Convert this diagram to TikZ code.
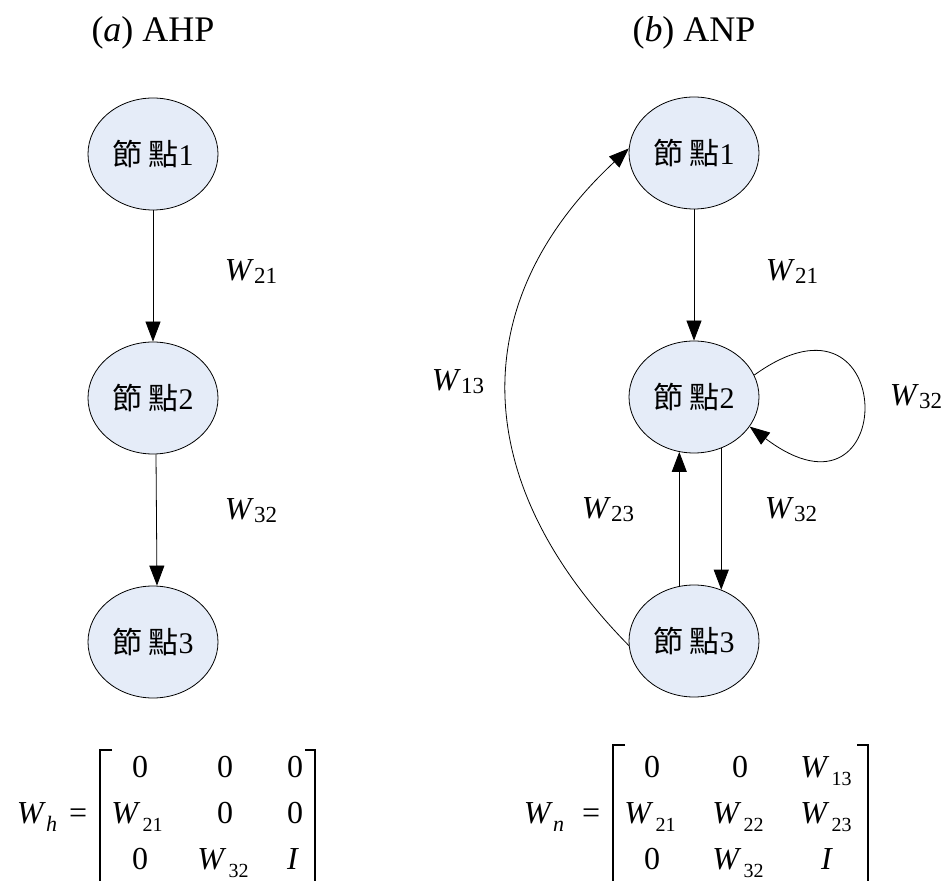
\documentclass[tikz,border=0pt]{standalone}
\usepackage{fontspec}
\setmainfont{Liberation Serif}
\newfontfamily\cjk{Noto Sans CJK TC}
\usetikzlibrary{shapes.geometric, arrows.meta}
\definecolor{nodeblue}{RGB}{229,236,248}
\tikzstyle{arrow} = [->,>={Triangle[length=10pt,width=7.5pt]}]
\tikzstyle{oval} = [ellipse, minimum width=65pt, minimum height=56pt, inner sep=0pt, draw=black, fill=nodeblue, font=\fontsize{15}{18}\selectfont]
\tikzstyle{lab} = [font=\fontsize{16}{19}\selectfont]
\tikzstyle{ent} = [anchor=base, inner sep=0pt, font=\fontsize{16}{19}\selectfont]
\tikzstyle{title} = [font=\fontsize{18}{22}\selectfont]
\tikzstyle{bracket} = [line width=1.1pt]
\newcommand{\jd}[1]{{\cjk 節}\hspace{3pt}{\cjk 點}#1}
\newcommand{\wl}[1]{\textit{W}\raisebox{-1.5pt}{\fontsize{11.5}{13}\selectfont #1}}
\newcommand{\wm}[1]{\textit{W}\kern1pt\raisebox{-4pt}{\fontsize{10}{12}\selectfont #1}}

\begin{document}
\begin{tikzpicture}[x=0.5pt, y=-0.5pt, node distance=122pt]
		\useasboundingbox (0,0) rectangle (942,881);
		% titles
		\node (ta) [title] at (153,33) {(\textit{a}) AHP};
		\node (tb) [title] at (694,33) {(\textit{b}) ANP};
		% (a) AHP
		\node (ln1) [oval] at (153,154) {\jd{1}};
		\node (ln2) [oval, below of=ln1] {\jd{2}};
		\node (ln3) [oval, below of=ln2] {\jd{3}};
		\draw [arrow] (ln1) -- (ln2);
		\draw [arrow] ([xshift=1.5pt]ln2.south) -- ([xshift=2pt]ln3.north);
		\node (la21) [lab] at (251,272) {\wl{21}};
		\node (la32) [lab] at (251,511) {\wl{32}};
		% (b) ANP
		\node (rn1) [oval] at (694,153) {\jd{1}};
		\node (rn2) [oval, below of=rn1] {\jd{2}};
		\node (rn3) [oval, below of=rn2] {\jd{3}};
		\draw [arrow] (rn1) -- (rn2);
		\draw [arrow] (rn3.105) -- (rn2.-105);
		\draw [arrow] (rn2.-62) -- (rn3.62);
		\draw [arrow] (rn2.20) .. controls (900,270) and (900,540) .. (rn2.-28);
		\draw [arrow] (rn3.184) .. controls (466,480) and (466,300) .. (rn1.176);
		\node (rb21) [lab] at (792,272) {\wl{21}};
		\node (rb13) [lab] at (458,382) {\wl{13}};
		\node (rb23) [lab] at (608,510) {\wl{23}};
		\node (rb32) [lab] at (791,510) {\wl{32}};
		\node (rb22) [lab] at (916,397) {\wl{32}};
		% matrix W_h
		\node (wh) [ent] at (52,823) {\textit{W}\raisebox{-4pt}{\fontsize{11}{13}\selectfont\textit{h}}\hspace{6pt}=};
		\draw [bracket] (112,750) -- (100,750) -- (100,881);
		\draw [bracket] (305,750) -- (315,750) -- (315,881);
		\node (h11) [ent] at (140,777) {0};
		\node (h12) [ent] at (225,777) {0};
		\node (h13) [ent] at (295,777) {0};
		\node (h21) [ent] at (137,823) {\wm{21}};
		\node (h22) [ent] at (225,823) {0};
		\node (h23) [ent] at (295,823) {0};
		\node (h31) [ent] at (140,869) {0};
		\node (h32) [ent] at (223,869) {\wm{32}};
		\node (h33) [ent] at (293,869) {\textit{I}};
		% matrix W_n
		\node (wn) [ent] at (562,823) {\textit{W}\raisebox{-4pt}{\fontsize{11}{13}\selectfont\textit{n}}\hspace{9pt}=};
		\draw [bracket] (625,745) -- (613,745) -- (613,881);
		\draw [bracket] (857,745) -- (868,745) -- (868,881);
		\node (n11) [ent] at (652,777) {0};
		\node (n12) [ent] at (740,777) {0};
		\node (n13) [ent] at (826,777) {\wm{13}};
		\node (n21) [ent] at (650,823) {\wm{21}};
		\node (n22) [ent] at (738,823) {\wm{22}};
		\node (n23) [ent] at (826,823) {\wm{23}};
		\node (n31) [ent] at (652,869) {0};
		\node (n32) [ent] at (738,869) {\wm{32}};
		\node (n33) [ent] at (827,869) {\textit{I}};
	\end{tikzpicture}
\end{document}
